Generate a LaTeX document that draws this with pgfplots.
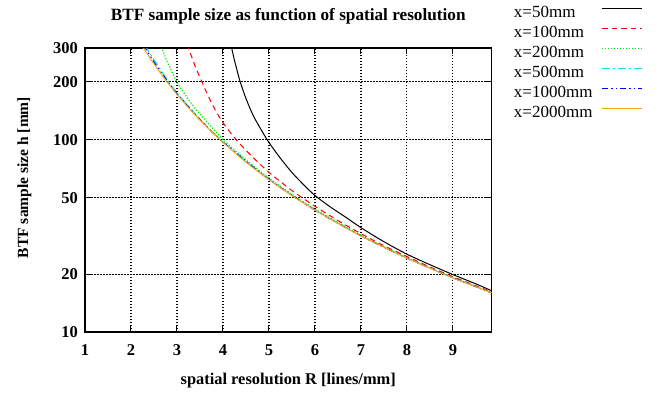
\documentclass[border=0pt]{standalone}
\usepackage{pgfplots}
\pgfplotsset{compat=1.18}
\usepackage{fontspec}
\setmainfont{Liberation Serif}
\definecolor{gporange}{RGB}{245,165,30}
\definecolor{gpgreen}{RGB}{0,235,0}
\definecolor{gpcyan}{RGB}{0,230,230}
\begin{document}
\begin{tikzpicture}
\useasboundingbox (0bp,0bp) rectangle (659bp,-394bp);
\begin{axis}[
  at={(85bp,-332bp)}, anchor=south west,
  scale only axis, width=406.5bp, height=284bp,
  ymode=log, xmin=1, xmax=9.84, ymin=10, ymax=300,
  xtick={1,2,3,4,5,6,7,8,9},
  xticklabels={1,2,3,4,5,6,7,8,9},
  ytick={10,20,50,100,200,300},
  yticklabels={10,20,50,100,200,300},
  minor tick num=0, yminorticks=false,
  /pgf/number format/assume math mode=true,
  axis line style={line width=1.5bp},
  tick style={line width=1bp, black},
  major tick length=6bp,
  tick align=inside,
  grid=major,
  grid style={black, line width=1.2bp, dash pattern=on 1.5bp off 1.5bp},
  ticklabel style={font=\fontsize{16.5bp}{18bp}\selectfont\bfseries},
  xticklabel style={anchor=base, yshift=-23.7bp},
  yticklabel style={xshift=-3.5bp},
  title={BTF sample size as function of spatial resolution},
  title style={at={(axis description cs:0.5,1.0775)}, anchor=base, font=\fontsize{17.2bp}{18bp}\selectfont\bfseries},
  xlabel={spatial resolution R [lines/mm]},
  xlabel style={at={(axis description cs:0.5,-0.1842)}, anchor=base, font=\fontsize{16.4bp}{18bp}\selectfont\bfseries},
  ylabel={BTF sample size h [mm]},
  ylabel style={at={(axis description cs:-0.149,0.544)}, anchor=center, font=\fontsize{15.5bp}{18bp}\selectfont\bfseries},
  legend plot pos=right,
  legend cell align=left,
  legend style={at={(axis description cs:1.045,1.16)}, anchor=north west, draw=none, fill=none,
    font=\fontsize{17bp}{20bp}\selectfont,
    nodes={inner sep=1bp, text height=12bp, text depth=4bp},
    row sep=2bp, column sep=8bp},
  legend image code/.code={\draw[#1] (0bp,5bp) -- (40bp,5bp);},
]
\addplot[black, line width=1bp, smooth] coordinates {
(4.16,328)(4.19,300)(4.25,259)(4.30,233)(4.37,202)(4.5,164)(4.65,135)(4.8,116)(5.0,96.8)(5.25,80.1)(5.5,67.6)(5.75,58.5)(6.0,51.3)(6.33,44.8)(6.7,39.1)(7.0,34.9)(7.5,29.5)(8.0,25.4)(8.5,22.4)(9.0,19.9)(9.5,17.8)(9.84,16.4)
};
\addlegendentry{x=50mm}
\addplot[red, line width=1bp, dash pattern=on 5.5bp off 4bp, smooth] coordinates {
(3.22,314)(3.25,300)(3.4,240)(3.55,198)(3.7,165)(3.86,139)(4.05,118)(4.3,99.3)(4.6,83.3)(5.0,67.7)(5.5,54.4)(6.0,45.1)(6.5,38.0)(7.0,32.5)(7.5,28.1)(8.0,24.7)(8.5,21.8)(9.0,19.4)(9.5,17.4)(9.84,16.2)
};
\addlegendentry{x=100mm}
\addplot[gpgreen, line width=1.2bp, dash pattern=on 1.2bp off 1.8bp, smooth] coordinates {
(2.64,314)(2.67,300)(2.8,251)(3.0,200)(3.25,162)(3.5,136)(4.0,100.4)(4.5,78.6)(5.0,63.2)(5.5,52.0)(6.0,43.6)(7.0,31.9)(8.0,24.3)(9.0,19.2)(9.84,16.0)
};
\addlegendentry{x=200mm}
\addplot[gpcyan, line width=1bp, dash pattern=on 8bp off 3bp on 2bp off 3bp, smooth] coordinates {
(2.31,312)(2.34,300)(2.5,260.4)(2.8,203.6)(3.0,175.7)(3.5,128.0)(4.0,97.7)(5.0,62.3)(6.0,43.2)(7.0,31.7)(8.0,24.27)(9.0,19.17)(9.84,16.03)
};
\addlegendentry{x=500mm}
\addplot[blue, line width=1bp, dash pattern=on 6bp off 3bp on 1.5bp off 3bp on 1.5bp off 3bp, smooth] coordinates {
(2.28,311)(2.31,300.6)(2.5,254)(2.8,200.7)(3.0,173.9)(3.5,127.3)(4.0,97.3)(5.0,62.2)(6.0,43.1)(7.0,31.65)(8.0,24.23)(9.0,19.15)(9.84,16.01)
};
\addlegendentry{x=1000mm}
\addplot[gporange, line width=1bp, smooth] coordinates {
(2.25,306)(2.4,269.1)(2.6,229.3)(2.8,197.7)(3.0,172.2)(3.25,146.7)(3.5,126.5)(3.75,110.2)(4.0,96.9)(4.5,76.5)(5.0,62.0)(5.5,51.2)(6.0,43.1)(6.5,36.7)(7.0,31.6)(7.5,27.6)(8.0,24.2)(8.5,21.5)(9.0,19.1)(9.5,17.2)(9.84,16.0)
};
\addlegendentry{x=2000mm}
\end{axis}
\end{tikzpicture}
\end{document}
